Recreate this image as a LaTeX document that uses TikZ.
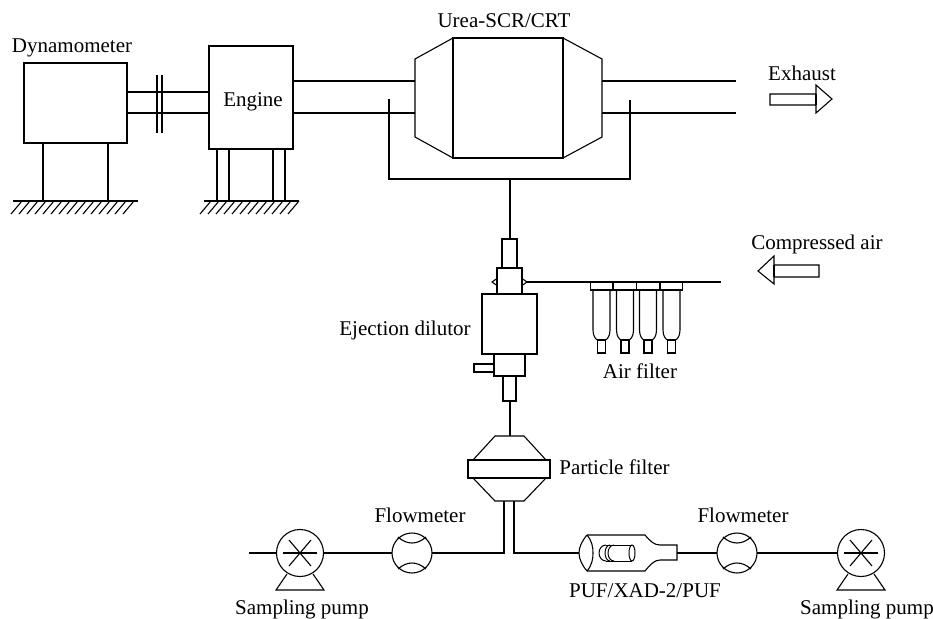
\documentclass[tikz,border=0pt]{standalone}
\usepackage{fontspec}
\setmainfont{Liberation Serif}
\usetikzlibrary{positioning}

\begin{document}
\begin{tikzpicture}[
    x=1pt, y=-1pt,
    line width=1.1pt,
    node distance=0pt,
    box/.style={rectangle, draw, inner sep=0pt, outer sep=0pt},
    meter/.style={circle, draw, inner sep=0pt, outer sep=0pt},
    tag/.style={inner sep=0pt, font=\fontsize{21}{24}\selectfont},
    thin line/.style={line width=1pt}
]
\useasboundingbox (0,0) rectangle (933,618);

\node[box, anchor=north west, minimum width=103, minimum height=80] (dyno) at (24,63) {};
\node[box, anchor=north west, minimum width=84, minimum height=103] (engine) at (209,46) {};
\node[box, anchor=north, minimum width=110, minimum height=120] (cat) at (508,38) {};
\coordinate (conel) at (415,98);
\coordinate (coner) at (602,98);

\node[tag] (dynolabel) at (72,48) {Dynamometer};
\node[tag] (enginelabel) at (253,102) {Engine};
\node[tag] (catlabel) at (504,21) {Urea-SCR/CRT};
\node[tag] (exhaustlabel) at (802,73) {Exhaust};
\node[tag] (airlabel) at (817,244) {Compressed air};
\node[tag] (ejlabel) at (405,330) {Ejection dilutor};
\node[tag] (filterlabel) at (640,371) {Air filter};
\node[tag] (pflabel) at (614.5,467) {Particle filter};
\node[tag] (flowalabel) at (420,515) {Flowmeter};
\node[tag] (flowblabel) at (743,515) {Flowmeter};
\node[tag] (puflabel) at (645,591) {PUF/XAD-2/PUF};
\node[tag] (pumpalabel) at (302,609) {Sampling pump};
\node[tag] (pumpblabel) at (867,609) {Sampling pump};

\draw (dyno.south -| 43,0) -- (43,201);
\draw (dyno.south -| 108,0) -- (108,201);
\draw (13,201) -- (138,201);
\foreach \x in {22,30,...,134} \draw (\x,201) -- (\x-11,214);

\foreach \x in {217,229,273,285} \draw (engine.south -| \x,0) -- (\x,201);
\draw (204,201) -- (299,201);
\foreach \x in {211,219,...,299} \draw (\x,201) -- (\x-11,214);

\draw (dyno.east |- 0,92) -- (engine.west |- 0,92);
\draw (dyno.east |- 0,113) -- (engine.west |- 0,113);
\draw (157,75) -- (157,133);
\draw (162,75) -- (162,133);

\draw (engine.east |- 0,81) -- (conel |- 0,81);
\draw (engine.east |- 0,113) -- (conel |- 0,113);
\draw (coner |- 0,81) -- (736,81);
\draw (coner |- 0,113) -- (736,113);

\draw (cat.north west) -- (415,59) -- (415,137) -- (cat.south west);
\draw (cat.north east) -- (602,59) -- (602,137) -- (cat.south east);

\node[box, minimum width=55, minimum height=60] (ejbody) at (509.5,324) {};
\node[box, above=of ejbody, minimum width=25, minimum height=26] (ejneck) {};
\node[box, above=of ejneck, minimum width=15, minimum height=29] (ejtop) {};
\node[box, below=of ejbody, minimum width=31, minimum height=22] (ejfoot) {};
\node[box, below=of ejfoot, minimum width=13, minimum height=25] (ejtail) {};
\node[box, anchor=east, minimum width=20, minimum height=8] (ejside) at (494,368) {};

\coordinate (tapa) at (389,99);
\coordinate (tapb) at (630,100);
\coordinate (tapj) at (510,179);
\draw (tapa) -- (389,179) -- (630,179) -- (tapb);
\draw (tapj) -- (tapj |- ejtop.north);

\coordinate (valve) at (527,282);
\coordinate (airend) at (721,282);
\draw (497,278.5) -- (492,282) -- (497,285.5);
\draw (522,278.5) -- (valve) -- (522,285.5);
\draw (valve) -- (airend);

\foreach \x [count=\i] in {601.5,625,648,671.5} {
  \node[box, minimum width=22.5, minimum height=8] (cap\i) at (\x,286) {};
  \node[box, minimum width=8, minimum height=13] (stub\i) at (\x,346.5) {};
  \draw (\x-8.5,290) -- (\x-8.5,330) .. controls (\x-8.5,336) and (\x-6,339) .. (stub\i.north west);
  \draw (\x+8.5,290) -- (\x+8.5,330) .. controls (\x+8.5,336) and (\x+6,339) .. (stub\i.north east);
}

\node[box, minimum width=82, minimum height=18] (pf) at (509,469) {};
\coordinate (pftop) at (510,436);
\draw (473,460) -- (495,436) -- (524,436) -- (546,460);
\draw (473,478) -- (495,501) -- (524,501) -- (546,478);
\draw (ejtail.south -| pftop) -- (pftop);

\foreach \px/\pname in {300/pumpa,861/pumpb} {
  \node[meter, minimum size=47] (\pname) at (\px,553) {};
  \draw (\px-17,553) -- (\px+17,553);
  \draw (\px-11,540) -- (\px+11,566);
  \draw (\px+11,540) -- (\px-11,566);
  \draw (\px-13,574) -- (\px-24,590) -- (\px+24,590) -- (\px+13,574);
}
\foreach \px/\fname in {412/flowa,737/flowb} {
  \node[meter, minimum size=40] (\fname) at (\px,553) {};
  \draw (\px-14,537) .. controls (\px-5,545) and (\px+5,545) .. (\px+14,537);
  \draw (\px-14,569) .. controls (\px-5,561) and (\px+5,561) .. (\px+14,569);
}

\coordinate (inleft) at (249,553);
\coordinate (cartin) at (579,553);
\coordinate (cartout) at (677,553);
\draw (inleft) -- (pumpa);
\draw (pumpa) -- (flowa);
\draw (flowa) -- (504,553) -- (504,501);
\draw (514,501) -- (514,553) -- (cartin);
\draw (cartout) -- (flowb);
\draw (flowb) -- (pumpb);

\draw (587,535) .. controls (582,541) and (579,547) .. (cartin) .. controls (579,559) and (582,565) .. (587,571);
\draw (587,535) .. controls (592,541) and (593,547) .. (593,553) .. controls (593,559) and (592,565) .. (587,571);
\draw (587,535) -- (645,535) .. controls (650,541) and (654,545) .. (660,545) -- (677,545) -- (cartout) -- (677,560) -- (660,560) .. controls (654,560) and (650,565) .. (645,571) -- (587,571);

\draw[thin line] (632,553) ellipse [x radius=3, y radius=8];
\draw[thin line] (606,545) -- (632,545);
\draw[thin line] (606,561) -- (632,561);
\draw[thin line] (606,545) arc [start angle=-90, end angle=-270, x radius=7, y radius=8];
\draw[thin line] (610,545) arc [start angle=-90, end angle=-270, x radius=5, y radius=8];
\draw[thin line] (614,545) arc [start angle=-90, end angle=-270, x radius=6, y radius=8];

\draw (770,94) -- (816,94) -- (816,85) -- (832,99) -- (816,113) -- (816,105) -- (770,105) -- cycle;
\draw (816,94) -- (816,105);
\draw (819,265) -- (774,265) -- (774,256) -- (758,271) -- (774,284) -- (774,277) -- (819,277) -- cycle;
\draw (774,265) -- (774,277);
\end{tikzpicture}
\end{document}
